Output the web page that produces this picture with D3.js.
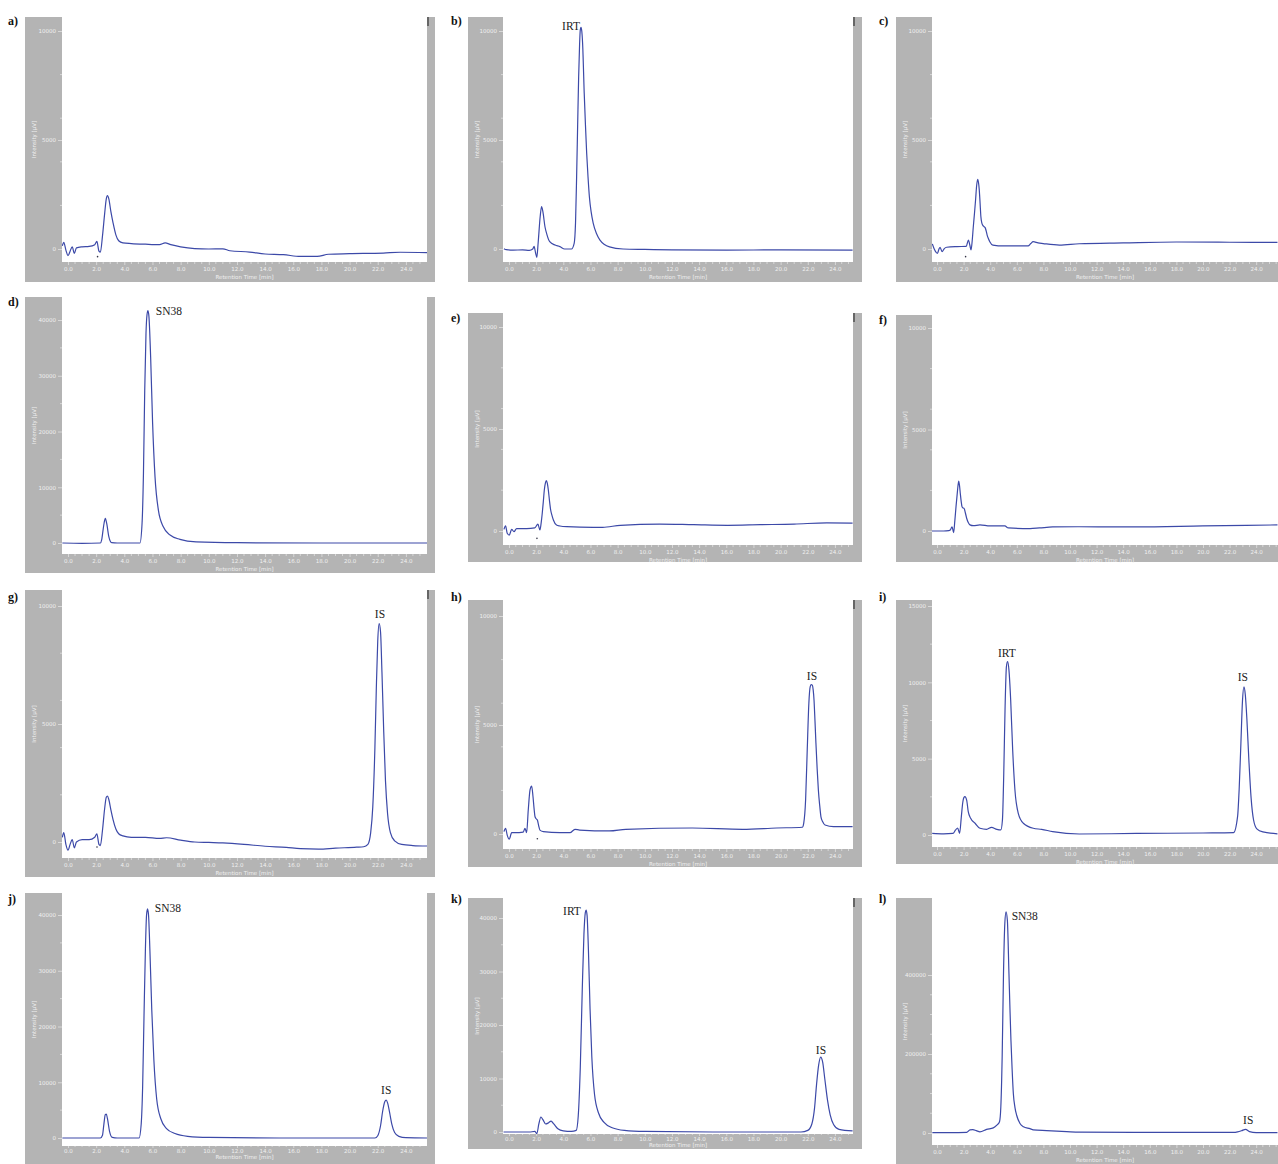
<!DOCTYPE html>
<html>
<head>
<meta charset="utf-8">
<script src="https://cdn.jsdelivr.net/npm/d3@7"></script>
<style>
  body { margin: 0; background: #fff; }
</style>
</head>
<body>
<div id="chart"></div>
<script>
// panel ids in reading order
var ids = ["a", "b", "c", "d", "e", "f", "g", "h", "i", "j", "k", "l"];

// chromatograms: [retention time (min), intensity (µV)]
var traceA = [[-0.4,150],[-0.3,300],[-0.15,-50],[0,-300],[0.15,-100],[0.3,100],[0.45,-200],[0.6,50],[1,100],[1.5,120],[1.9,200],[2.05,350],[2.2,-100],[2.3,-150],[2.45,600],[2.6,1600],[2.72,2300],[2.8,2450],[2.9,2300],[3.05,1700],[3.2,1200],[3.4,650],[3.6,380],[3.9,280],[4.5,250],[5.5,220],[6.5,200],[6.9,280],[7.3,200],[8,100],[9,20],[10,0],[11,10],[11.5,-80],[12.9,-140],[14,-230],[15.3,-260],[16.5,-340],[17.7,-340],[18.5,-240],[20,-215],[22.4,-185],[23.6,-150],[25.5,-170]];
var traceB = [[-0.37,15],[-0.2,-30],[0.3,-50],[1,-40],[1.5,-60],[1.75,0],[1.85,120],[1.95,-150],[2.05,-380],[2.15,300],[2.3,1500],[2.4,1950],[2.5,1700],[2.65,1020],[2.8,650],[3.0,335],[3.4,180],[3.75,110],[4.1,0],[4.6,0],[4.8,260],[4.9,1200],[4.98,3300],[5.06,5800],[5.13,7900],[5.2,9400],[5.25,10050],[5.3,10170],[5.36,10000],[5.42,9450],[5.54,7150],[5.63,5700],[5.72,4400],[5.82,3300],[5.92,2400],[6.05,1700],[6.2,1190],[6.45,700],[6.7,410],[7.4,100],[8.4,0],[10,-20],[12,-40],[16,-50],[20,-40],[25.3,-50]];
var traceC = [[-0.35,230],[-0.2,-15],[0.03,-200],[0.15,0],[0.23,80],[0.38,-120],[0.55,20],[0.73,80],[1.5,110],[2.2,120],[2.36,410],[2.48,150],[2.56,-45],[2.65,400],[2.73,1020],[2.82,1650],[2.9,2250],[2.98,2900],[3.06,3200],[3.12,3050],[3.18,2700],[3.24,2100],[3.3,1480],[3.37,1200],[3.43,1100],[3.55,1020],[3.62,980],[3.7,820],[3.77,640],[3.87,470],[3.97,335],[4.2,180],[5,140],[6.85,140],[7.05,250],[7.23,335],[7.6,280],[7.98,250],[9.2,180],[10.7,240],[14,280],[18,320],[22,310],[25.6,300]];
var traceD = [[-0.4,0],[1,-50],[2.3,0],[2.39,540],[2.5,2500],[2.56,3500],[2.65,4430],[2.75,3500],[2.9,1130],[3.1,50],[3.5,0],[5.11,0],[5.26,3500],[5.36,12500],[5.45,27400],[5.54,37600],[5.61,40900],[5.68,41700],[5.75,40600],[5.87,33400],[6.01,21500],[6.18,11900],[6.42,5900],[6.77,2900],[7.25,1430],[7.95,660],[9.1,200],[12,50],[18,0],[25.5,0]];
var traceE = [[-0.37,80],[-0.25,250],[-0.13,-110],[0.02,-200],[0.2,80],[0.37,-30],[0.56,120],[1.3,120],[1.9,150],[2.13,340],[2.28,50],[2.37,400],[2.45,870],[2.53,1450],[2.6,2000],[2.68,2350],[2.75,2470],[2.82,2350],[2.9,2000],[2.98,1500],[3.07,1030],[3.17,750],[3.27,540],[3.5,290],[3.75,245],[4.25,210],[6.2,180],[6.9,180],[8.2,280],[11.1,340],[13.6,310],[16.1,280],[18.5,310],[21,340],[23.4,400],[25.3,390]];
var traceF = [[-0.38,0],[0.5,0],[0.88,20],[1.0,50],[1.13,210],[1.25,-80],[1.34,500],[1.43,1200],[1.53,1900],[1.63,2460],[1.69,2250],[1.75,1860],[1.82,1450],[1.88,1200],[1.96,1130],[2.03,1120],[2.13,900],[2.23,630],[2.35,420],[2.48,300],[2.73,260],[3.23,300],[3.98,250],[5.1,250],[5.36,150],[7,120],[7.7,150],[8.7,200],[10.7,210],[15,200],[20,250],[25.6,300]];
var traceG = [[-0.4,200],[-0.3,400],[-0.15,-100],[0,-350],[0.15,-100],[0.3,100],[0.45,-250],[0.6,0],[1,100],[1.5,100],[1.9,200],[2.05,350],[2.2,-100],[2.3,-150],[2.45,500],[2.6,1400],[2.72,1900],[2.8,1950],[2.9,1800],[3.05,1350],[3.2,950],[3.4,550],[3.6,350],[3.9,260],[4.5,200],[5.5,200],[6.5,150],[7,180],[8,80],[9,0],[10,-20],[11,-40],[12.5,-100],[14,-180],[15.5,-230],[16.5,-280],[17.8,-300],[19,-260],[20.5,-220],[21,-200],[21.3,-100],[21.5,400],[21.65,1500],[21.8,4000],[21.9,6500],[22.0,8500],[22.1,9250],[22.2,8900],[22.3,7200],[22.42,4800],[22.55,2600],[22.7,1200],[22.9,400],[23.2,50],[23.7,-100],[24.5,-150],[25.5,-170]];
var traceH = [[-0.37,110],[-0.25,260],[-0.13,-50],[0.02,-240],[0.2,60],[0.44,60],[1.05,90],[1.18,260],[1.3,60],[1.42,1100],[1.55,2020],[1.67,2200],[1.77,1710],[1.85,1150],[1.92,790],[2.0,700],[2.09,640],[2.18,400],[2.28,180],[2.53,110],[3.75,60],[4.49,60],[4.86,215],[5.2,180],[7.4,140],[8.6,215],[13.5,275],[17.2,215],[19.7,275],[21.6,310],[21.7,490],[21.84,1560],[21.96,3850],[22.08,6000],[22.18,6760],[22.26,6850],[22.33,6830],[22.4,6600],[22.46,6150],[22.53,5200],[22.6,4170],[22.69,3000],[22.78,2020],[22.88,1300],[22.97,790],[23.1,560],[23.27,410],[23.9,335],[25.3,335]];
var traceI = [[-0.36,110],[0.5,80],[1.2,100],[1.4,330],[1.55,460],[1.7,110],[1.83,1200],[1.93,2080],[2.02,2450],[2.1,2510],[2.23,2290],[2.35,1530],[2.53,1090],[2.86,770],[3.23,440],[3.73,370],[4.1,500],[4.5,370],[4.8,330],[4.92,980],[5.02,4040],[5.12,8400],[5.22,11030],[5.31,11350],[5.41,10800],[5.54,8840],[5.69,5570],[5.86,2950],[6.11,1420],[6.49,770],[7.24,440],[7.87,370],[8.7,220],[10.7,65],[15,100],[20,130],[22.3,150],[22.6,1200],[22.72,3000],[22.85,6000],[22.97,8800],[23.08,9700],[23.18,9200],[23.3,7600],[23.45,4900],[23.62,2400],[23.8,1000],[24.05,400],[24.5,200],[25.6,80]];
var traceJ = [[-0.4,0],[1,0],[2.3,0],[2.45,500],[2.55,2500],[2.65,4200],[2.72,4300],[2.8,3500],[2.95,1200],[3.15,100],[3.5,0],[5.05,0],[5.2,2500],[5.3,9000],[5.4,22000],[5.5,34000],[5.58,40000],[5.65,41100],[5.72,40000],[5.82,33500],[5.95,23000],[6.1,14000],[6.3,7000],[6.6,3400],[7.0,1700],[7.6,800],[8.5,300],[10,100],[15,0],[21.8,0],[22.0,400],[22.2,2200],[22.35,4800],[22.5,6500],[22.6,6800],[22.7,6300],[22.85,4500],[23.0,2500],[23.2,1000],[23.5,300],[24,50],[25.5,0]];
var traceK = [[-0.4,0],[0.5,0],[1.5,0],[1.9,100],[2.05,-300],[2.2,1500],[2.35,2800],[2.5,2300],[2.7,1500],[2.9,1700],[3.1,2050],[3.3,1500],[3.6,600],[4.0,200],[4.6,100],[4.95,300],[5.1,3000],[5.25,12000],[5.4,27000],[5.52,37000],[5.62,41000],[5.68,41500],[5.75,40500],[5.85,34000],[5.97,23000],[6.1,14000],[6.3,7000],[6.6,3500],[7,1800],[7.6,800],[8.5,300],[10,100],[15,0],[20,0],[21.5,0],[22.0,300],[22.3,1500],[22.5,4500],[22.65,9000],[22.8,12500],[22.95,14000],[23.1,13000],[23.25,10000],[23.45,6000],[23.65,3200],[23.9,1400],[24.3,500],[25.3,200]];
var traceL = [[-0.35,800],[1,800],[2.23,1500],[2.48,8000],[2.7,8400],[2.95,6000],[3.23,3000],[3.73,9300],[4.23,13000],[4.5,20000],[4.7,28700],[4.8,66600],[4.9,193000],[5.0,404000],[5.1,531000],[5.19,560000],[5.29,539000],[5.41,404000],[5.49,310000],[5.56,235000],[5.65,160000],[5.74,100000],[5.86,65000],[5.99,45000],[6.24,24000],[6.5,16000],[6.99,11000],[7.24,8000],[8.24,6000],[9.75,3400],[10.7,2000],[14.8,1700],[22.3,1700],[22.6,3000],[22.9,5800],[23.2,9300],[23.5,3400],[24,1000],[25.6,1000]];

var traces = { a: traceA, b: traceB, c: traceC, d: traceD, e: traceE, f: traceF,
               g: traceG, h: traceH, i: traceI, j: traceJ, k: traceK, l: traceL };

// labelled ticks
var xTickLabels = [0, 2, 4, 6, 8, 10, 12, 14, 16, 18, 20, 22, 24];
var yTicks10k = [0, 5000, 10000];
var yTicks15k = [0, 5000, 10000, 15000];
var yTicks40k = [0, 10000, 20000, 30000, 40000];
var yTicks400k = [0, 200000, 400000];

// peak names, placed in data units of their panel
var peakLabels = [
  { p: "b", text: "IRT",  t: 4.57, v: 10230 },
  { p: "d", text: "SN38", t: 7.17, v: 41600 },
  { p: "g", text: "IS",   t: 22.16, v: 9660 },
  { p: "h", text: "IS",   t: 22.31, v: 7250 },
  { p: "i", text: "IRT",  t: 5.26, v: 11920 },
  { p: "i", text: "IS",   t: 23.0, v: 10350 },
  { p: "j", text: "SN38", t: 7.1, v: 41260 },
  { p: "j", text: "IS",   t: 22.6, v: 8600 },
  { p: "k", text: "IRT",  t: 4.64, v: 41300 },
  { p: "k", text: "IS",   t: 22.97, v: 15330 },
  { p: "l", text: "SN38", t: 6.6, v: 549000 },
  { p: "l", text: "IS",   t: 23.4, v: 33000 }
];

// small injection marks under the baseline
var injectMarks = [
  { p: "a", t: 2.1, v: -350 },
  { p: "c", t: 2.15, v: -350 },
  { p: "e", t: 2.06, v: -360 },
  { p: "g", t: 2.06, v: -210 },
  { p: "h", t: 2.09, v: -215 }
];

// page layout (pixels), per column and per panel
var col1 = { fx: [25, 435], px: [62, 427], xd: [-0.426, 25.5] };
var col2 = { fx: [468, 862], px: [503, 853], xd: [-0.44, 25.33] };
var col3 = { fx: [896, 1300], px: [932, 1278], xd: [-0.376, 25.64] };

// tick length, label padding and title offset below the axis
var axisStd = { tick: 3, pad: 2, title: 17 };
var axisTight = { tick: 2, pad: 1, title: 13 };

var layout = {
  a: { col: col1, fy: [17, 282], axisY: 262, y0: 249, yTop: 31, ticks: yTicks10k, minor: 2000, letterY: 25, flag: true },
  b: { col: col2, fy: [17, 282], axisY: 262, y0: 249, yTop: 31, ticks: yTicks10k, minor: 2000, letterY: 25, flag: true },
  c: { col: col3, fy: [17, 282], axisY: 262, y0: 249, yTop: 31, ticks: yTicks10k, minor: 2000, letterY: 25 },
  d: { col: col1, fy: [297, 573], axisY: 554, y0: 543, yTop: 320, ticks: yTicks40k, minor: 5000, letterY: 306 },
  e: { col: col2, fy: [313, 562], axisY: 545, y0: 531, yTop: 327, ticks: yTicks10k, minor: 2000, letterY: 322, flag: true },
  f: { col: col3, fy: [315, 562], axisY: 545, y0: 531, yTop: 328, ticks: yTicks10k, minor: 2000, letterY: 324 },
  g: { col: col1, fy: [590, 877], axisY: 858, y0: 842, yTop: 606, ticks: yTicks10k, minor: 2000, letterY: 601, flag: true },
  h: { col: col2, fy: [600, 867], axisY: 849, y0: 834, yTop: 616, ticks: yTicks10k, minor: 2000, letterY: 601, flag: true },
  i: { col: col3, fy: [600, 864], axisY: 847, y0: 835, yTop: 606, ticks: yTicks15k, minor: 2500, letterY: 601 },
  j: { col: col1, fy: [893, 1180], axisY: 1146, y0: 1138, yTop: 915, ticks: yTicks40k, minor: 5000, letterY: 903, ax: axisTight },
  k: { col: col2, fy: [898, 1149], axisY: 1134, y0: 1132, yTop: 918, ticks: yTicks40k, minor: 5000, letterY: 903, flag: true, ax: axisTight },
  l: { col: col3, fy: [898, 1164], axisY: 1145, y0: 1133, yTop: 975, ticks: yTicks400k, minor: 50000, letterY: 903 }
};

var grey = "#b4b4b4", light = "#f0f0f0", lineCol = "#3c49a8";

var svg = d3.select("#chart")
  .append("svg")
    .attr("width", 1278)
    .attr("height", 1164)
    .style("display", "block");

ids.forEach(function (id) {
  var L = layout[id], C = L.col, A = L.ax || axisStd;
  var g = svg.append("g");

  // grey frame and white plot area
  g.append("rect")
    .attr("x", C.fx[0]).attr("y", L.fy[0])
    .attr("width", C.fx[1] - C.fx[0]).attr("height", L.fy[1] - L.fy[0])
    .attr("fill", grey);
  g.append("rect")
    .attr("x", C.px[0]).attr("y", L.fy[0])
    .attr("width", C.px[1] - C.px[0]).attr("height", L.axisY - L.fy[0])
    .attr("fill", "#fff");
  if (L.flag) {
    g.append("rect")
      .attr("x", C.px[1]).attr("y", L.fy[0])
      .attr("width", 2).attr("height", 9)
      .attr("fill", "#666");
  }

  var x = d3.scaleLinear().domain(C.xd).range(C.px);
  var y = d3.scaleLinear().domain([0, L.ticks[L.ticks.length - 1]])
    .range([L.y0, L.yTop]);

  // x axis
  var xa = g.append("g")
    .attr("transform", "translate(0," + L.axisY + ")")
    .call(d3.axisBottom(x).tickValues(xTickLabels)
      .tickFormat(d3.format(".1f")).tickSize(A.tick).tickPadding(A.pad));
  var xMinor = d3.range(0, C.xd[1], 0.5).filter(function (t) { return t % 2 !== 0; });
  xa.selectAll(".minor").data(xMinor).enter().append("line")
    .attr("class", "minor")
    .attr("x1", function (t) { return x(t); }).attr("x2", function (t) { return x(t); })
    .attr("y1", 0).attr("y2", A.tick - 1);

  // y axis
  var ya = g.append("g")
    .attr("transform", "translate(" + C.px[0] + ",0)")
    .call(d3.axisLeft(y).tickValues(L.ticks).tickFormat(d3.format("d"))
      .tickSize(4).tickPadding(2));
  var yMinor = d3.range(0, y.domain()[1] * 1.1, L.minor)
    .filter(function (v) { return L.ticks.indexOf(v) < 0 && y(v) > L.fy[0] + 2; });
  ya.selectAll(".minor").data(yMinor).enter().append("line")
    .attr("class", "minor")
    .attr("y1", function (v) { return y(v); }).attr("y2", function (v) { return y(v); })
    .attr("x1", 0).attr("x2", -2);

  [xa, ya].forEach(function (ax) {
    ax.select(".domain").remove();
    ax.selectAll("line").attr("stroke", light).attr("stroke-width", 0.6);
    ax.selectAll("text")
      .attr("fill", light)
      .style("font-family", "DejaVu Sans, Verdana, sans-serif")
      .style("font-size", "5.5px");
  });

  // axis titles
  g.append("text")
    .attr("x", (C.px[0] + Math.min(C.px[1], 1278)) / 2)
    .attr("y", Math.min(L.axisY + A.title, 1162))
    .attr("text-anchor", "middle")
    .attr("fill", light)
    .style("font-family", "DejaVu Sans, Verdana, sans-serif")
    .style("font-size", "5.5px")
    .text("Retention Time [min]");
  g.append("text")
    .attr("transform", "translate(" + (C.fx[0] + 9) + "," + ((L.fy[0] + L.axisY) / 2) + ") rotate(-90)")
    .attr("text-anchor", "middle")
    .attr("dy", "0.35em")
    .attr("fill", light)
    .style("font-family", "DejaVu Sans, Verdana, sans-serif")
    .style("font-size", "5.5px")
    .text("Intensity [µV]");

  // trace, clipped to the plot area
  g.append("clipPath").attr("id", "clip-" + id)
    .append("rect")
      .attr("x", C.px[0]).attr("y", L.fy[0])
      .attr("width", C.px[1] - C.px[0]).attr("height", L.axisY - L.fy[0]);

  var line = d3.line()
    .x(function (d) { return x(d[0]); })
    .y(function (d) { return y(d[1]); })
    .curve(d3.curveMonotoneX);

  g.append("path")
    .datum(traces[id])
    .attr("clip-path", "url(#clip-" + id + ")")
    .attr("d", line)
    .attr("fill", "none")
    .attr("stroke", lineCol)
    .attr("stroke-width", 1.2);

  g.selectAll(".mark")
    .data(injectMarks.filter(function (m) { return m.p === id; }))
    .enter().append("circle")
      .attr("cx", function (m) { return x(m.t); })
      .attr("cy", function (m) { return y(m.v); })
      .attr("r", 0.8)
      .attr("fill", "#334");

  // peak names
  g.selectAll(".peak")
    .data(peakLabels.filter(function (p) { return p.p === id; }))
    .enter().append("text")
      .attr("x", function (p) { return x(p.t); })
      .attr("y", function (p) { return y(p.v); })
      .attr("dy", "0.35em")
      .attr("text-anchor", "middle")
      .attr("fill", "#222")
      .style("font-family", "Liberation Serif, Times New Roman, serif")
      .style("font-size", "11.5px")
      .text(function (p) { return p.text; });

  // panel letter
  g.append("text")
    .attr("x", C.fx[0] - 17)
    .attr("y", L.letterY)
    .attr("fill", "#111")
    .style("font-family", "Liberation Serif, Times New Roman, serif")
    .style("font-size", "12px")
    .style("font-weight", "bold")
    .text(id + ")");
});
</script>
</body>
</html>
